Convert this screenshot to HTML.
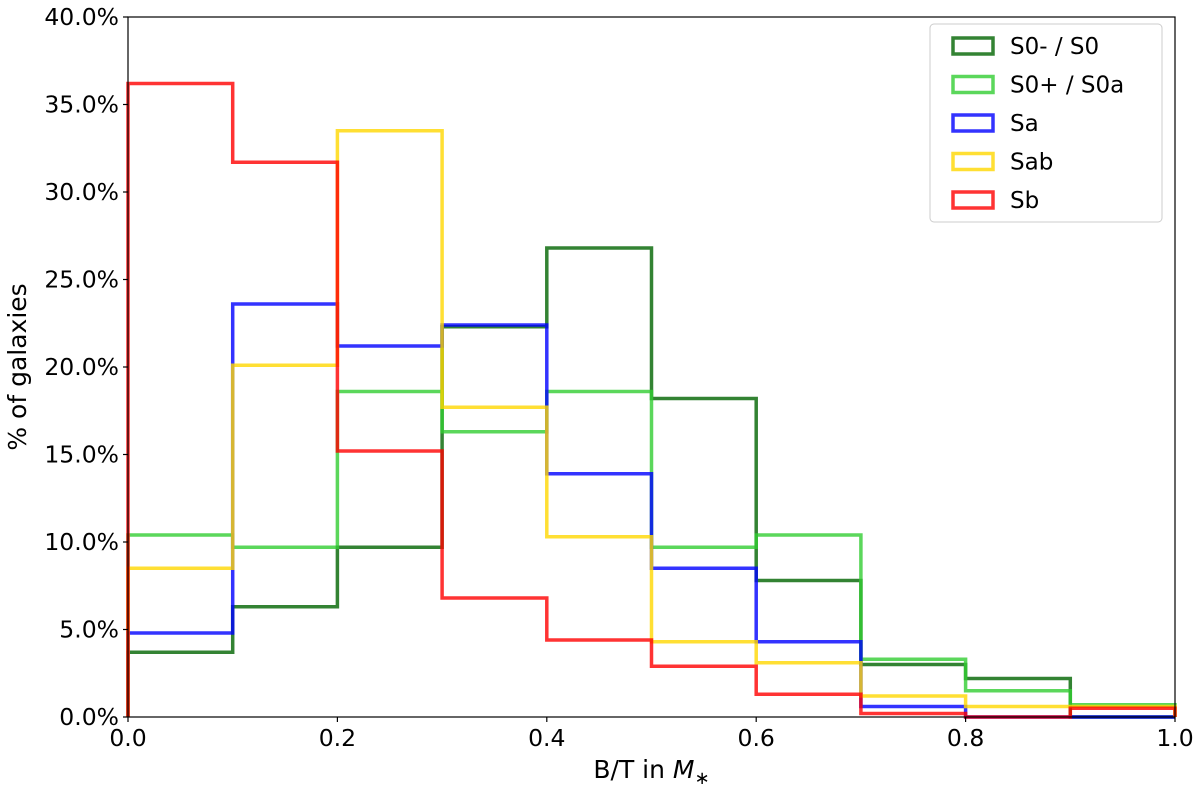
<!DOCTYPE html>
<html><head><meta charset="utf-8"><style>
body{margin:0;background:#fff;}
svg{display:block;font-family:"DejaVu Sans","Liberation Sans",sans-serif;}
</style></head><body>
<svg id="chart" width="1200" height="786" xmlns="http://www.w3.org/2000/svg"></svg>
<script>
const binEdges=[0,0.1,0.2,0.3,0.4,0.5,0.6,0.7,0.8,0.9,1.0];
const seriesNames=["S0- / S0","S0+ / S0a","Sa","Sab","Sb"];
const s0=[3.7,6.3,9.7,22.3,26.8,18.2,7.8,3.0,2.2,0.0];
const s0a=[10.4,9.7,18.6,16.3,18.6,9.7,10.4,3.3,1.5,0.7];
const sa=[4.8,23.6,21.2,22.4,13.9,8.5,4.3,0.6,0.0,0.0];
const sab=[8.5,20.1,33.5,17.7,10.3,4.3,3.1,1.2,0.6,0.6];
const sb=[36.2,31.7,15.2,6.8,4.4,2.9,1.3,0.2,0.0,0.5];
const xTicks=[0,0.2,0.4,0.6,0.8,1.0];
const yTicks=[0,5,10,15,20,25,30,35,40];
const colors=["#006400","#32cd32","#0000ff","#ffd700","#ff0000"];
const allSeries=[s0,s0a,sa,sab,sb];

const L=128,R=1175,T=17,B=717;
const X=v=>L+(v-0)/(1-0)*(R-L);
const Y=v=>B-(v/40)*(B-T);
const svg=document.getElementById('chart');
const NS="http://www.w3.org/2000/svg";
function mk(tag,attrs,parent){const e=document.createElementNS(NS,tag);for(const k in attrs)e.setAttribute(k,attrs[k]);(parent||svg).appendChild(e);return e;}

allSeries.forEach((data,si)=>{
  let d="M"+X(binEdges[0])+","+Y(0);
  data.forEach((v,i)=>{d+=" L"+X(binEdges[i])+","+Y(v)+" L"+X(binEdges[i+1])+","+Y(v);});
  d+=" L"+X(binEdges[binEdges.length-1])+","+Y(0);
  const p=mk('path',{d:d,fill:"none",stroke:colors[si],"stroke-opacity":0.8,"stroke-width":3.5,"stroke-linejoin":"miter"});
  
  
});

const fr=mk('rect',{x:L,y:T,width:R-L,height:B-T,fill:"none",stroke:"#000","stroke-width":1.2});



xTicks.forEach(t=>{
  mk('line',{x1:X(t),x2:X(t),y1:B,y2:B+5,stroke:"#000","stroke-width":1.2});
  const tx=mk('text',{x:X(t),y:B+29,"text-anchor":"middle","font-size":23.5});
  tx.textContent=t.toFixed(1);
  
  
});
yTicks.forEach(t=>{
  mk('line',{x1:L-5,x2:L,y1:Y(t),y2:Y(t),stroke:"#000","stroke-width":1.2});
  const tx=mk('text',{x:L-9,y:Y(t)+8,"text-anchor":"end","font-size":23.5});
  tx.textContent=t.toFixed(1)+"%";
  
  
});

const xl=mk('text',{x:(L+R)/2,y:778,"text-anchor":"middle","font-size":25});
xl.innerHTML='B/T in <tspan font-style="italic">M</tspan><tspan font-size="18" dy="6">∗</tspan>';


const yl=mk('text',{x:0,y:0,"text-anchor":"middle","font-size":25,transform:"translate(26,"+((T+B)/2)+") rotate(-90)"});
yl.textContent="% of galaxies";



const lg=mk('g',{});


mk('rect',{x:930,y:24,width:232,height:198,rx:4,fill:"#fff","fill-opacity":0.8,stroke:"#ccc","stroke-width":1},lg);
seriesNames.forEach((n,i)=>{
  const y=46+i*38.5;
  const g=mk('g',{},lg);
  
  
  mk('rect',{x:953,y:y-8,width:40,height:16,fill:"none",stroke:colors[i],"stroke-opacity":0.8,"stroke-width":3.5},g);
  const t=mk('text',{x:1010,y:y+8,"font-size":23},g);
  t.textContent=n;
});
</script>
</body></html>
